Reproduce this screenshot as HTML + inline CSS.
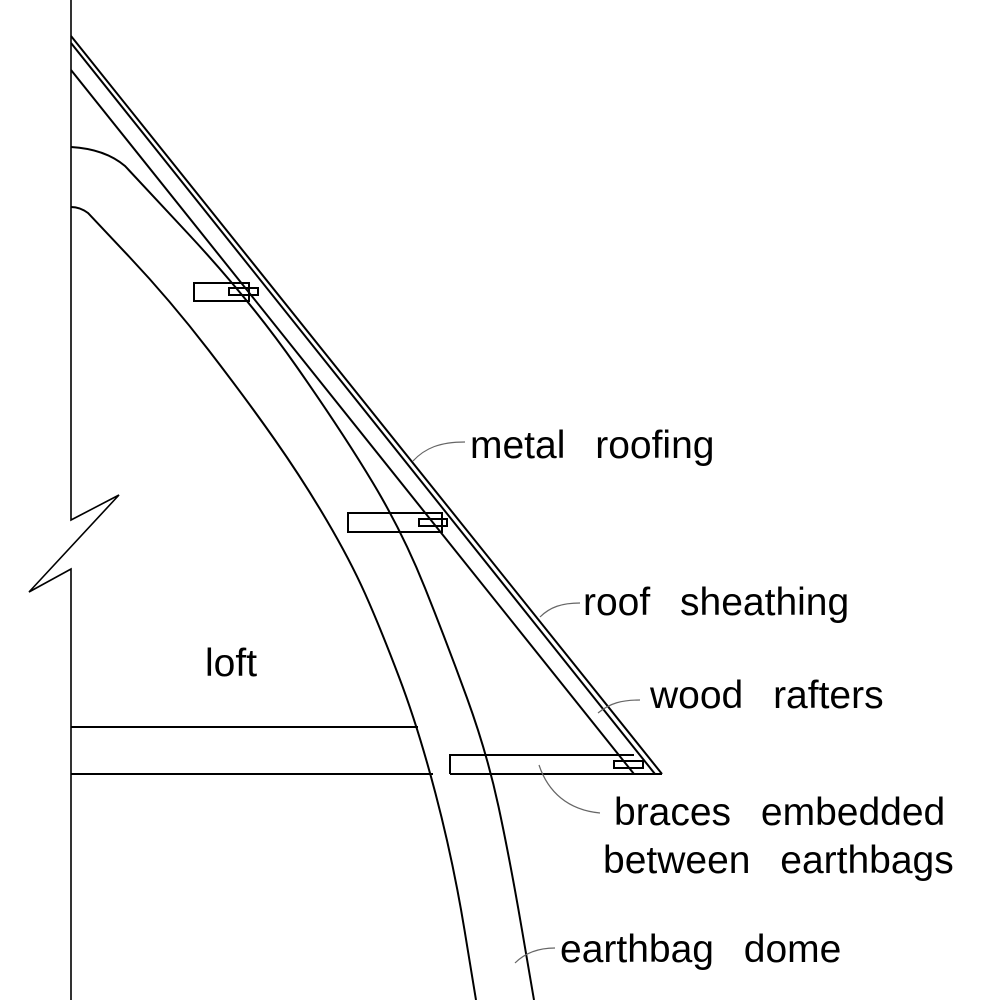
<!DOCTYPE html>
<html><head><meta charset="utf-8"><style>
html,body{margin:0;padding:0;background:#fff;}
svg{display:block;}
text{font-family:"Liberation Sans",Arial,sans-serif;font-size:39px;fill:#000;word-spacing:19px;}
</style></head><body>
<svg width="981" height="1000" viewBox="0 0 981 1000" xmlns="http://www.w3.org/2000/svg">
<g fill="none" stroke="#000" stroke-width="2">
<polyline points="71,0 71,520 119,495 29,592 71,569 71,1000" stroke-width="1.6"/>
<line x1="71" y1="36" x2="662" y2="774"/>
<line x1="71" y1="43" x2="655" y2="774"/>
<line x1="71" y1="70" x2="634" y2="774"/>
<path d="M71,147 Q105,149 125,166 L187.5,233 Q250,300 296.5,366.5 Q343,433 373,483 Q403,533 425,588 Q447,643 467,698 Q487,753 498.5,806.5 Q510,860 522,930 L534,1000"/>
<path d="M71,207 Q80,207 88,213 L129,256.5 Q170,300 208.5,350 Q247,400 275,440 Q303,480 326.5,520 Q350,560 365,593.5 Q380,627 399,677 Q418,727 435.5,793.5 Q453,860 464.5,930 L476,1000"/>
<line x1="71" y1="727" x2="418" y2="727"/>
<line x1="71" y1="774" x2="433" y2="774"/>
<line x1="450" y1="774" x2="662" y2="774"/>
<polyline points="634,755 450,755 450,774"/>
<rect x="194" y="283" width="55" height="18"/>
<rect x="229" y="288" width="29" height="7"/>
<rect x="348" y="513" width="94" height="19"/>
<rect x="419" y="519" width="28" height="7"/>
<rect x="614" y="761" width="29" height="7"/>
</g>
<g fill="none" stroke="#666" stroke-width="1.2">
<path d="M413,461 C425,448 440,442 465,442"/>
<path d="M540,617 C550,607 562,603 580,603"/>
<path d="M598,713 C610,703 622,700 640,700"/>
<path d="M539,765 C548,792 568,810 600,813"/>
<path d="M515,963 C525,953 538,948 555,948"/>
</g>
<text x="470" y="458">metal roofing</text>
<text x="583" y="615">roof sheathing</text>
<text x="650" y="708">wood rafters</text>
<text x="614" y="825">braces embedded</text>
<text x="603" y="873">between earthbags</text>
<text x="560" y="962">earthbag dome</text>
<text x="205" y="676">loft</text>
</svg>
</body></html>
